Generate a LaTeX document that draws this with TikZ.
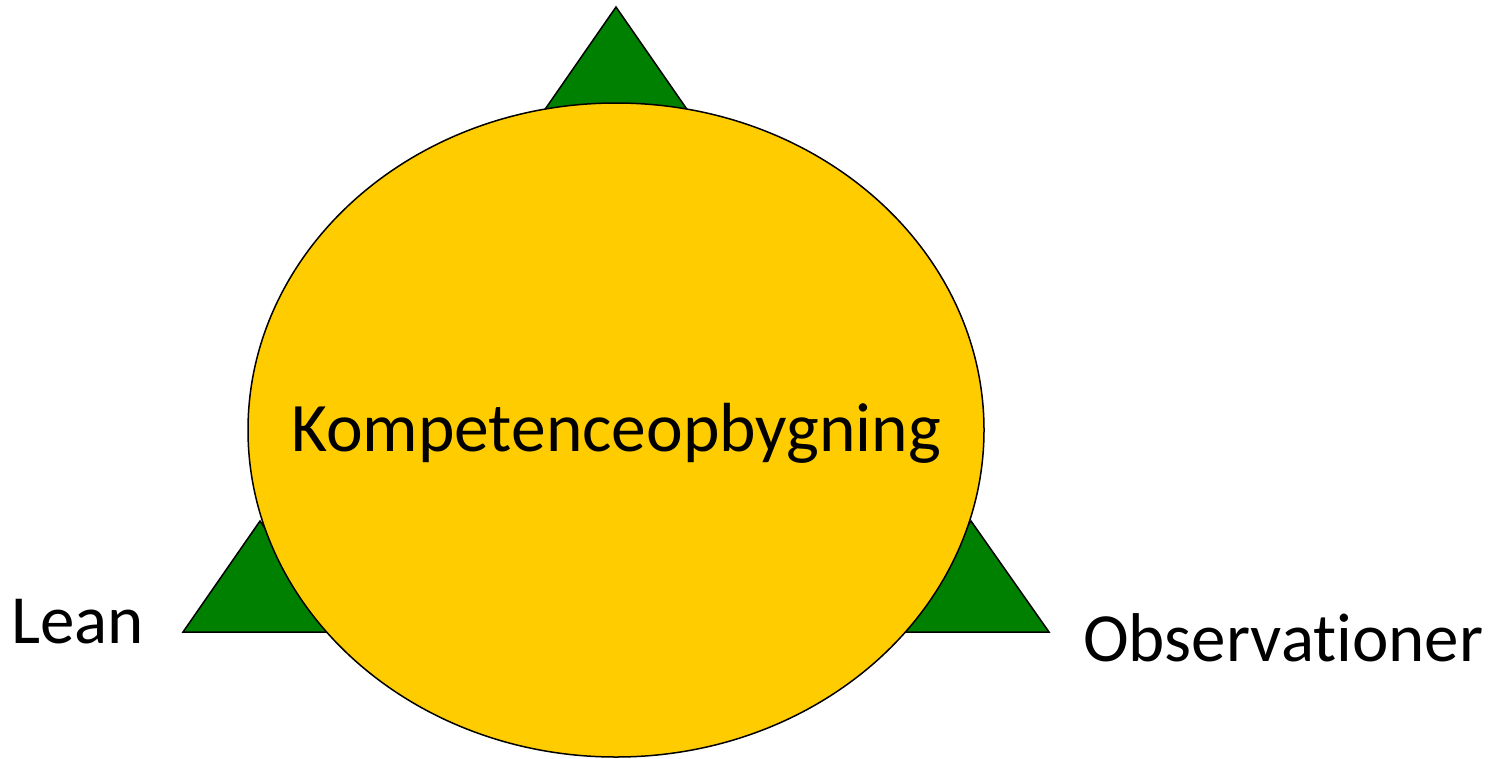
\documentclass[tikz,border=0pt]{standalone}
\usepackage{fontspec}
\setmainfont{Carlito}[Ligatures=CommonOff]
\usetikzlibrary{shapes.geometric}
\definecolor{tgreen}{RGB}{0,128,0}
\definecolor{eyellow}{RGB}{255,204,0}
\begin{document}
\begin{tikzpicture}[x=1pt,y=-1pt,
  tri/.style={fill=tgreen,draw=black,line width=1.5pt,line join=miter},
  lbl/.style={font=\fontsize{69}{80}\selectfont,inner sep=0pt,anchor=base west}]
\useasboundingbox (0,0) rectangle (1506,758);
\draw[tri] (616,7) -- (693,118) -- (539,118) -- cycle;
\draw[tri] (260,521) -- (337,632) -- (183,632) -- cycle;
\draw[tri] (971,521) -- (1049,632) -- (893,632) -- cycle;
\node[ellipse,draw=black,fill=eyellow,line width=1.5pt,minimum width=736pt,minimum height=654pt,inner sep=0pt] (e) at (616,430) {};
\node[font=\fontsize{69.5}{80}\selectfont,inner sep=0pt,anchor=base] (k) at (616,451) {Kompetenceopbygning};
\node[lbl] (lean) at (11,643) {Lean};
\node[lbl] (obs) at (1083,661) {Observationer};
\end{tikzpicture}
\end{document}
